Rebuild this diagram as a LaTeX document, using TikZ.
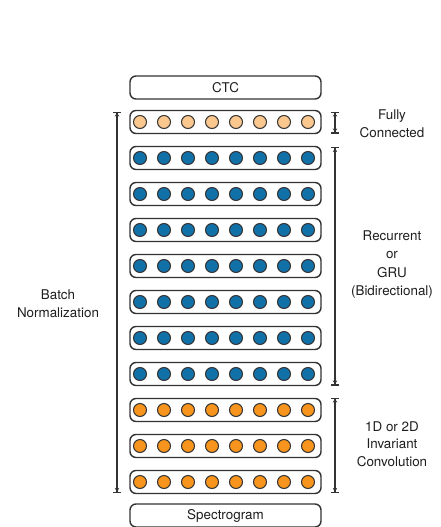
\documentclass[tikz,border=0pt]{standalone}
\usepackage{fontspec}
\setmainfont{TeX Gyre Heros}
\usetikzlibrary{arrows.meta}
\definecolor{lineg}{HTML}{333333}
\definecolor{fclight}{HTML}{FAC88F}
\definecolor{rnnblue}{HTML}{1170A8}
\definecolor{convor}{HTML}{F7941D}
\definecolor{txtg}{HTML}{1E1E1E}
\tikzset{
  layerbox/.style={draw=lineg, line width=1.4pt, rounded corners=6pt, minimum width=191pt, minimum height=23pt, inner sep=0pt},
  labelbox/.style={layerbox, font=\fontsize{13.4pt}{16pt}\selectfont, text=txtg},
  unit/.style={circle, draw=lineg, line width=1pt, minimum size=13pt, inner sep=0pt},
  fcunit/.style={unit, fill=fclight},
  rnnunit/.style={unit, fill=rnnblue},
  convunit/.style={unit, fill=convor},
  span/.style={draw=lineg, line width=1.1pt, {Bar[width=8pt,line width=1.1pt]Stealth[length=4pt,width=4.5pt]}-{Stealth[length=4pt,width=4.5pt]Bar[width=8pt,line width=1.1pt]}},
  sidetext/.style={align=center, text=txtg, font=\fontsize{13.4pt}{17.5pt}\selectfont},
}
\begin{document}
\begin{tikzpicture}[x=1pt, y=-1pt]
\useasboundingbox (0,0) rectangle (440,527);
\node[labelbox] (ctc) at (225.5,87.5) {CTC};
\node[labelbox] (spec) at (225.5,515.5) {Spectrogram};
\foreach \k in {0,...,10} {
  \pgfmathsetmacro{\yy}{122+36*\k}
  \ifnum\k=0 \def\ustyle{fcunit}\else\ifnum\k<8 \def\ustyle{rnnunit}\else\def\ustyle{convunit}\fi\fi
  \node[layerbox] (row\k) at (225.5,\yy) {};
  \foreach \i in {0,...,7} {
    \node[\ustyle] (u\k-\i) at ({140+24*\i},\yy) {};
  }
}
% left span: batch normalization
\coordinate (bnTop) at (117,111.5);
\coordinate (bnBot) at (117,493);
\draw[span] (bnTop) -- (bnBot);
\node[sidetext] (bn) at (58,303.5) {Batch\\Normalization};
% right spans
\coordinate (fcTop) at (335,111.5);
\coordinate (fcBot) at (335,133.5);
\draw[span] (fcTop) -- (fcBot);
\node[sidetext] (fc) at (392,123.5) {Fully\\Connected};
\coordinate (rnTop) at (335,147);
\coordinate (rnBot) at (335,385.5);
\draw[span] (rnTop) -- (rnBot);
\node[sidetext, font=\fontsize{13.4pt}{18.5pt}\selectfont] (rn) at (392,264.5) {Recurrent\\or\\GRU\\(Bidirectional)};
\coordinate (cvTop) at (335,397.5);
\coordinate (cvBot) at (335,493);
\draw[span] (cvTop) -- (cvBot);
\node[sidetext] (cv) at (392,444) {1D or 2D\\Invariant\\Convolution};
\end{tikzpicture}
\end{document}
